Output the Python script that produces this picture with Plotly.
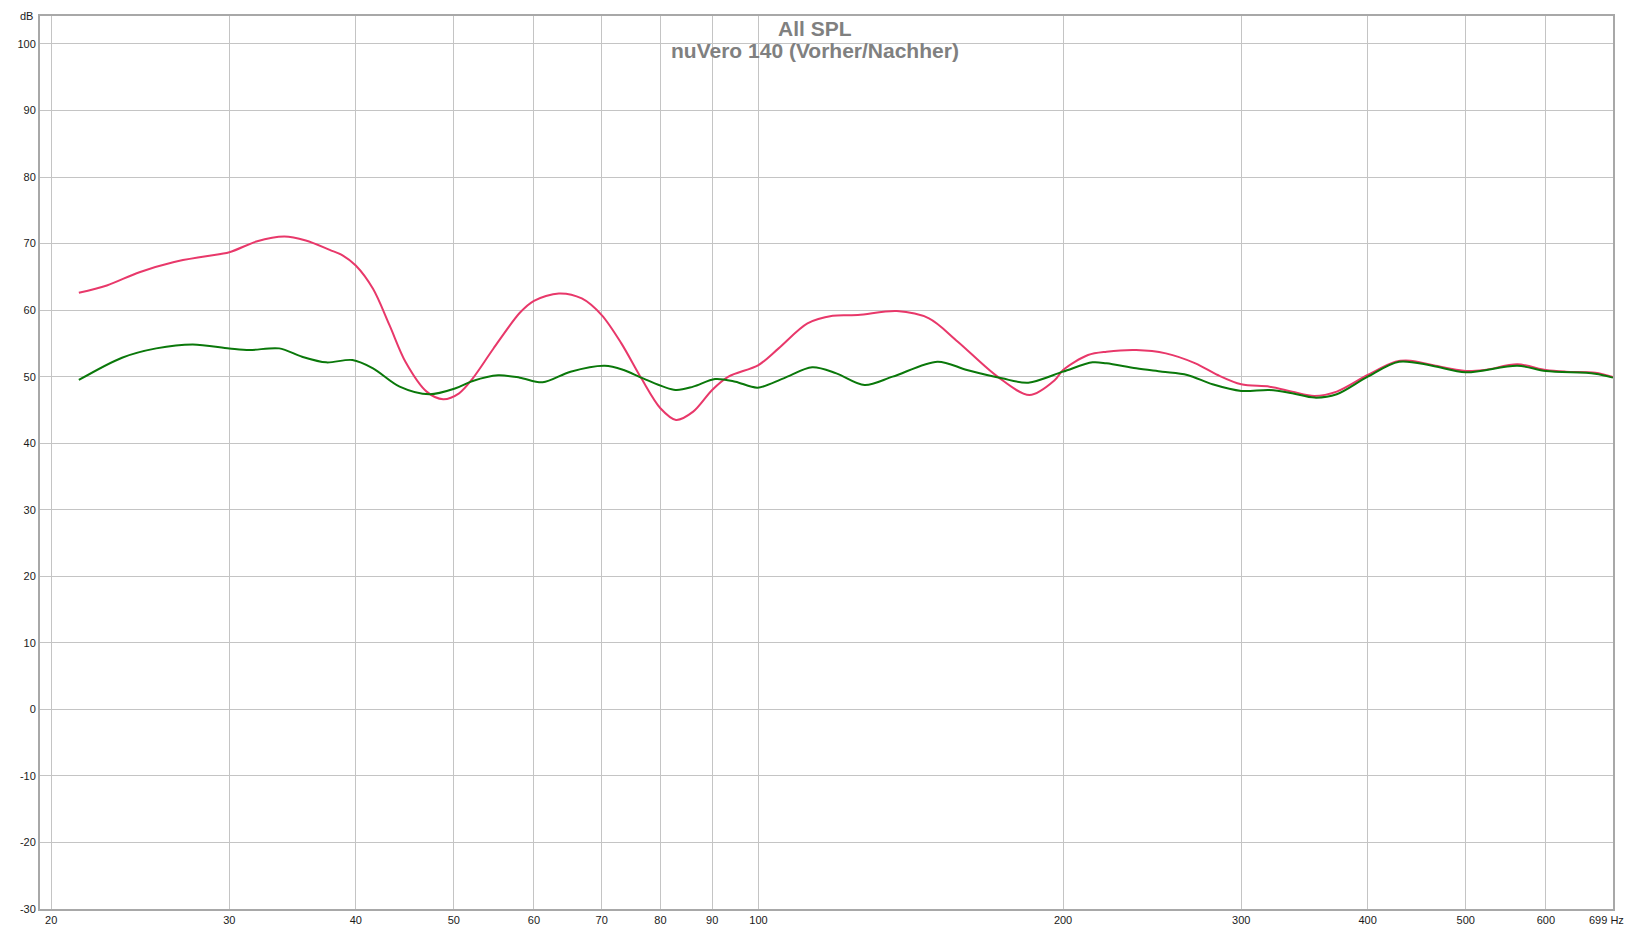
"""REW-style SPL overlay: nuVero 140 before/after correction."""

import plotly.graph_objects as go

# before correction (red)
freq_before = [
    21.3, 22.7, 24.45, 26.4, 28.45, 30.0, 31.9, 34.0, 35.7, 37.7, 38.85, 40.0,
    41.6, 43.2, 44.8, 47.0, 48.8, 50.6, 52.2, 54.7, 58.1, 60.0, 63.5, 66.9,
    70.0, 73.2, 76.6, 80.0, 82.9, 86.2, 90.0, 93.4, 100.0, 104.7, 111.8, 118.4,
    125.4, 137.0, 147.4, 157.4, 172.3, 185.3, 196.3, 200.0, 211.7, 220.8, 236.2,
    252.7, 270.3, 284.3, 300.0, 320.0, 336.9, 354.4, 372.8, 400.0, 426.1, 440.8,
    463.2, 500.0, 521.7, 562.4, 600.0, 627.9, 671.4, 699.0,
]
spl_before = [
    62.6, 63.7, 65.7, 67.2, 68.1, 68.7, 70.3, 71.05, 70.45, 69.05, 68.2, 66.7,
    63.2, 57.7, 52.2, 47.75, 46.6, 47.5, 49.75, 54.2, 59.6, 61.4, 62.5, 61.75,
    59.25, 55.0, 49.75, 45.25, 43.5, 44.75, 48.0, 50.0, 51.75, 54.25, 58.0, 59.15,
    59.25, 59.85, 58.75, 55.25, 50.0, 47.25, 49.5, 51.0, 53.25, 53.75, 54.0,
    53.5, 52.0, 50.25, 48.85, 48.5, 47.75, 47.1, 47.75, 50.25, 52.25, 52.4,
    51.75, 50.85, 51.0, 51.85, 51.0, 50.75, 50.6, 49.95,
]

# after correction (green)
freq_after = [
    21.3, 23.5, 25.4, 27.6, 30.0, 31.4, 33.6, 35.4, 37.4, 39.7, 41.6, 44.2,
    47.3, 50.2, 52.2, 55.3, 58.1, 61.2, 65.2, 70.5, 73.6, 76.9, 82.8, 86.2,
    90.6, 94.9, 99.8, 105.9, 113.0, 119.4, 127.3, 135.7, 150.3, 160.7, 174.0,
    184.8, 200.0, 213.9, 220.8, 236.2, 250.6, 265.3, 281.0, 300.0, 320.0, 336.9,
    354.4, 372.8, 400.0, 429.5, 463.2, 500.0, 562.4, 600.0, 671.0, 699.0,
]
spl_after = [
    49.5, 52.85, 54.25, 54.85, 54.25, 54.0, 54.25, 53.0, 52.15, 52.5, 51.25, 48.5,
    47.35, 48.25, 49.35, 50.2, 49.85, 49.15, 50.75, 51.65, 51.0, 49.75, 48.0, 48.5,
    49.65, 49.25, 48.35, 49.75, 51.4, 50.5, 48.75, 50.0, 52.25, 51.0, 49.75,
    49.1, 50.75, 52.15, 52.0, 51.25, 50.75, 50.25, 48.85, 47.85, 48.0, 47.5,
    46.85, 47.35, 50.0, 52.25, 51.65, 50.65, 51.65, 50.85, 50.45, 49.85,
]

x_ticks = [20, 30, 40, 50, 60, 70, 80, 90, 100, 200, 300, 400, 500, 600]
y_ticks = list(range(-30, 101, 10))

FONT = "Liberation Sans, Arial, sans-serif"
GRID = "#c4c4c4"
TICK = dict(family=FONT, size=11, color="#1a1a1a")

fig = go.Figure()
fig.add_trace(
    go.Scatter(
        x=freq_before,
        y=spl_before,
        mode="lines",
        name="Vorher",
        line=dict(color="#e8386a", width=2, shape="spline", smoothing=0.9),
    )
)
fig.add_trace(
    go.Scatter(
        x=freq_after,
        y=spl_after,
        mode="lines",
        name="Nachher",
        line=dict(color="#0a780a", width=2, shape="spline", smoothing=0.9),
    )
)

# page body adds an 8px margin, so the figure is 8px smaller than the window
fig.update_layout(
    width=1624,
    height=924,
    paper_bgcolor="white",
    plot_bgcolor="white",
    showlegend=False,
    margin=dict(l=32, r=19, t=6, b=22),
    font=dict(family=FONT, size=11, color="#1a1a1a"),
    xaxis=dict(
        type="log",
        range=[1.2900, 2.8445],
        tickvals=x_ticks,
        ticktext=[str(t) for t in x_ticks],
        showgrid=True,
        gridcolor=GRID,
        gridwidth=1,
        showline=True,
        linecolor="#a8a8a8",
        linewidth=2,
        mirror=True,
        ticks="",
        zeroline=False,
        tickfont=TICK,
    ),
    yaxis=dict(
        range=[-30, 104.2],
        tickvals=y_ticks,
        ticktext=[str(t) for t in y_ticks],
        showgrid=True,
        gridcolor=GRID,
        gridwidth=1,
        showline=True,
        linecolor="#a8a8a8",
        linewidth=2,
        mirror=True,
        ticks="",
        zeroline=False,
        tickfont=TICK,
    ),
    annotations=[
        dict(
            text="<b>All SPL</b>",
            xref="paper", yref="paper", x=0.4925, y=0.9855,
            xanchor="center", yanchor="middle", showarrow=False,
            font=dict(family=FONT, size=21, color="#808080"),
        ),
        dict(
            text="<b>nuVero 140 (Vorher/Nachher)</b>",
            xref="paper", yref="paper", x=0.4925, y=0.961,
            xanchor="center", yanchor="middle", showarrow=False,
            font=dict(family=FONT, size=21, color="#808080"),
        ),
        dict(
            text="dB",
            xref="paper", yref="paper", x=-0.003, y=1.0,
            xanchor="right", yanchor="middle", showarrow=False,
            font=TICK,
        ),
        dict(
            text="699 Hz",
            xref="paper", yref="paper", x=1.008, y=-0.003,
            xanchor="right", yanchor="top", showarrow=False,
            font=TICK,
        ),
    ],
)

fig.write_html("out.html")
